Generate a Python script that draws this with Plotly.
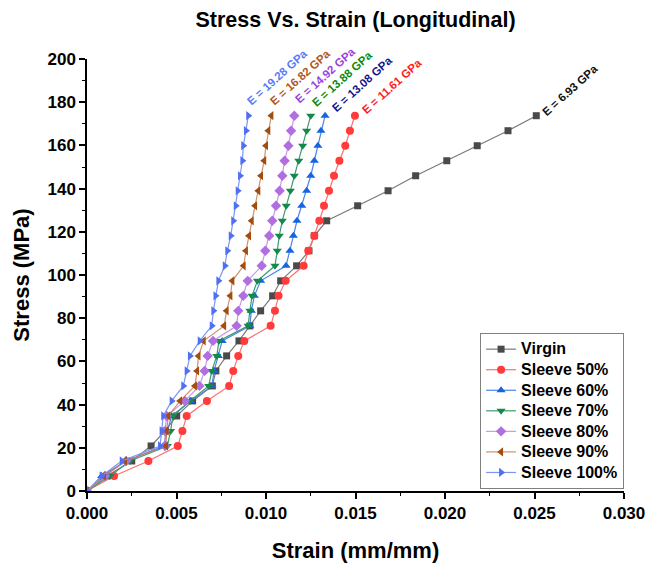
import plotly.graph_objects as go

stress = [0, 6.95, 13.9, 20.85, 27.8, 34.75, 41.7, 48.65, 55.6, 62.55, 69.5, 76.45, 83.4,
          90.35, 97.3, 104.25, 111.2, 118.15, 125.1, 132.05, 139.0, 145.95, 152.9, 159.85,
          166.8, 173.75]

virgin = [0, 0.0011, 0.0025, 0.00358, 0.00436, 0.00501, 0.0059, 0.0070, 0.0072, 0.0078,
          0.00849, 0.0091, 0.0097, 0.01037, 0.01082, 0.01171, 0.0124, 0.0127, 0.01339,
          0.01512, 0.01682, 0.01836, 0.0201, 0.0218, 0.02352, 0.0251]
sleeve50 = [0, 0.00151, 0.00343, 0.00507, 0.00533, 0.00557, 0.0067, 0.00794, 0.00817,
            0.00845, 0.00879, 0.01026, 0.0105, 0.0107, 0.0111, 0.0121, 0.01236, 0.0127,
            0.01298, 0.01324, 0.01352, 0.0138, 0.0141, 0.01443, 0.01469, 0.01497]
sleeve60 = [0, 0.00082, 0.00222, 0.00426, 0.00449, 0.00473, 0.0058, 0.00698, 0.0071,
            0.00734, 0.00755, 0.0091, 0.00918, 0.00935, 0.0097, 0.01112, 0.01134, 0.01153,
            0.01173, 0.0120, 0.01227, 0.0125, 0.0127, 0.0129, 0.01307, 0.0133]
sleeve70 = [0, 0.00128, 0.0024, 0.00449, 0.00467, 0.0048, 0.00575, 0.0068, 0.00697,
            0.00725, 0.00737, 0.009, 0.0091, 0.00922, 0.00952, 0.0105, 0.01063, 0.01074,
            0.01091, 0.01113, 0.01136, 0.01158, 0.01183, 0.01205, 0.01227, 0.0125]
sleeve80 = [0, 0.001, 0.00218, 0.00436, 0.00436, 0.00445, 0.00547, 0.00628, 0.00657,
            0.00674, 0.00704, 0.00836, 0.00845, 0.00873, 0.00898, 0.00976, 0.00996, 0.01018,
            0.01035, 0.01056, 0.01076, 0.01091, 0.01104, 0.01125, 0.0114, 0.01158]
sleeve90 = [0, 0.00095, 0.00212, 0.00441, 0.00445, 0.00454, 0.0052, 0.00603, 0.00615,
            0.00623, 0.00652, 0.00766, 0.0078, 0.00801, 0.00812, 0.00875, 0.00888, 0.00905,
            0.0092, 0.00939, 0.00957, 0.00972, 0.0099, 0.01, 0.01013, 0.0103]
sleeve100 = [0, 0.00082, 0.00194, 0.00408, 0.00417, 0.00426, 0.00473, 0.00538, 0.00557,
             0.00575, 0.0063, 0.00697, 0.00706, 0.00718, 0.00734, 0.0077, 0.00784, 0.00803,
             0.00817, 0.00831, 0.00842, 0.00855, 0.00868, 0.00873, 0.00888, 0.00901]

names = ["Virgin", "Sleeve 50%", "Sleeve 60%", "Sleeve 70%", "Sleeve 80%", "Sleeve 90%",
         "Sleeve 100%"]
moduli = ["E = 6.93 GPa", "E = 11.61 GPa", "E = 13.08 GPa", "E = 13.88 GPa",
          "E = 14.92 GPa", "E = 16.82 GPa", "E = 19.28 GPa"]
series = [virgin, sleeve50, sleeve60, sleeve70, sleeve80, sleeve90, sleeve100]

marker_colors = ["#4a4a4a", "#ff3b3b", "#1565e0", "#138a4c", "#b06ee0", "#a34c0c", "#4f6ff5"]
line_colors = ["#7a7a7a", "#ff7070", "#4a86e8", "#3d9c6c", "#c79ae8", "rgba(190,110,60,0.75)",
               "#7d95f5"]
symbols = ["square", "circle", "triangle-up", "triangle-down", "diamond", "triangle-left",
           "triangle-right"]
sizes = [7, 8, 8, 8, 8, 8, 8]
label_colors = ["#111111", "#ff1a1a", "#14148c", "#0a8a0a", "#9b3fe0", "#b0581a", "#5a7af5"]
label_shift = [(1, -5), (2, -3), (2, -1), (-4, 4), (-4, 8), (-6, 6), (-6, 6)]

FONT = "Liberation Sans, Arial, sans-serif"

fig = go.Figure()
for name, xs, mc, lc, sym, sz in zip(names, series, marker_colors, line_colors, symbols, sizes):
    fig.add_trace(go.Scatter(
        x=xs, y=stress, mode="lines+markers",
        name="<span style='font-size:16px'>%s</span>" % name,
        line=dict(color=lc, width=1.2),
        marker=dict(symbol=sym, size=sz, color=mc, line=dict(width=0)),
    ))

for xs, txt, col, (dx, dy) in zip(series, moduli, label_colors, label_shift):
    fig.add_annotation(
        x=xs[-1], y=stress[-1], xref="x", yref="y", text="<b>%s</b>" % txt,
        showarrow=False, textangle=-42, xanchor="left", yanchor="bottom",
        xshift=dx, yshift=dy, font=dict(family=FONT, size=11.5, color=col),
    )

axis_common = dict(
    showline=True, linecolor="black", linewidth=1.5, ticks="outside", ticklen=6,
    tickwidth=1.5, tickcolor="black", showgrid=False, zeroline=False, automargin=False,
    tickfont=dict(family=FONT, size=17, color="black", weight="bold"),
)

fig.update_xaxes(
    range=[0, 0.030], dtick=0.005, tick0=0, tickformat=".3f",
    title=dict(text="Strain (mm/mm)", font=dict(family=FONT, size=22, color="black", weight="bold"),
               standoff=20),
    minor=dict(ticks="outside", ticklen=3, dtick=0.0025, tickcolor="black", tickwidth=1.2),
    **axis_common,
)
fig.update_yaxes(
    range=[0, 200], dtick=20, tick0=0,
    title=dict(text="Stress (MPa)", font=dict(family=FONT, size=22, color="black", weight="bold"),
               standoff=12),
    minor=dict(ticks="outside", ticklen=3, dtick=10, tickcolor="black", tickwidth=1.2),
    **axis_common,
)

fig.update_layout(
    width=649, height=568,
    margin=dict(l=87, r=25, t=59, b=77, autoexpand=False),
    paper_bgcolor="white", plot_bgcolor="white",
    title=dict(text="Stress Vs. Strain (Longitudinal)", x=0.5, xref="paper", y=0.966,
               yanchor="middle", automargin=False,
               font=dict(family=FONT, size=21.5, color="black", weight="bold")),
    legend=dict(
        x=0.732, y=0.366, xanchor="left", yanchor="top",
        bordercolor="#808080", borderwidth=1, bgcolor="white",
        font=dict(family=FONT, size=13.5, color="black", weight="bold"),
        tracegroupgap=0, itemwidth=30,
    ),
)

fig.write_html("out.html")
